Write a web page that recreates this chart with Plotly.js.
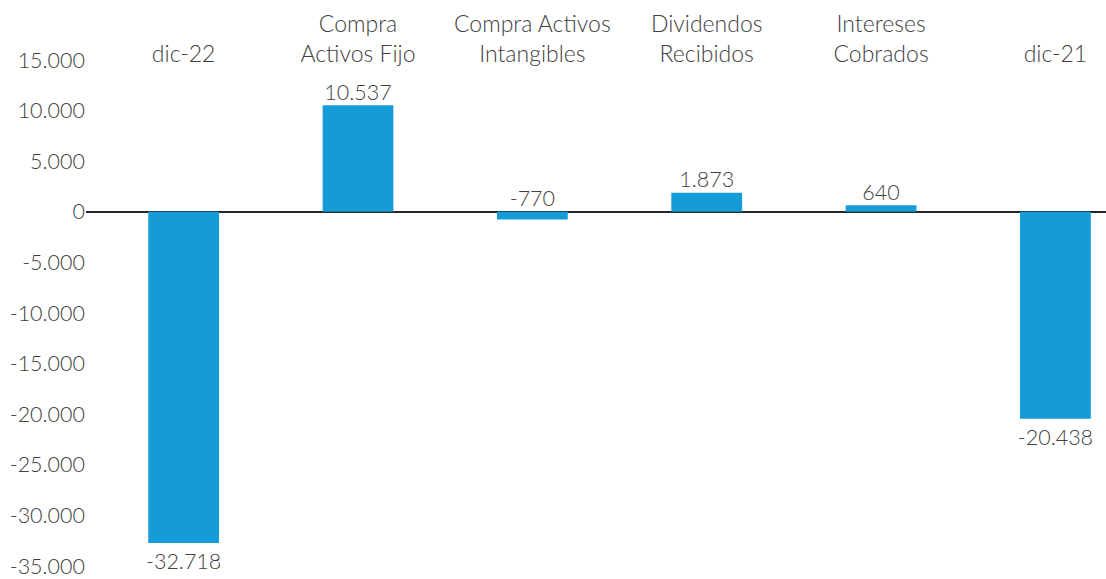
<!DOCTYPE html>
<html>
<head>
<meta charset="utf-8">
<script src="https://cdn.plot.ly/plotly-3.0.1.min.js"></script>
<style>html,body{margin:0;padding:0;background:#fff;}#chart{width:1106px;height:579px;}</style>
</head>
<body>
<div id="chart"></div>
<script>
const categories = ["dic-22", "Compra<br>Activos Fijo", "Compra Activos<br>Intangibles", "Dividendos<br>Recibidos", "Intereses<br>Cobrados", "dic-21"];
const values = [-32718, 10537, -770, 1873, 640, -20438];
const valueLabels = ["-32.718", "10.537", "-770", "1.873", "640", "-20.438"];
const yTicks = [15000, 10000, 5000, 0, -5000, -10000, -15000, -20000, -25000, -30000, -35000];
const yTickLabels = ["15.000", "10.000", "5.000", "0", "-5.000", "-10.000", "-15.000", "-20.000", "-25.000", "-30.000", "-35.000"];

const font = "Lato, 'Open Sans', sans-serif";
const textColor = "#404040";

const isBelow = values.map(v => v < -1000);
const labelPos = isBelow.map(b => b ? "bottom center" : "top center");
const labelY = values.map((v, i) => isBelow[i] ? v : Math.max(v, 0));
const labelPad = isBelow.map(b => b ? 14 : 0);

const data = [
  {
    type: "bar",
    x: categories,
    y: values,
    marker: {color: "#159BD8"},
    hoverinfo: "skip"
  },
  {
    type: "scatter",
    mode: "markers+text",
    x: categories,
    y: labelY,
    text: valueLabels,
    textposition: labelPos,
    marker: {size: labelPad, opacity: 0},
    textfont: {family: font, size: 21.5, color: textColor, weight: 300},
    cliponaxis: false,
    hoverinfo: "skip"
  }
];

const layout = {
  width: 1106,
  height: 579,
  margin: {l: 86, r: 0, t: 60, b: 13},
  paper_bgcolor: "#ffffff",
  plot_bgcolor: "#ffffff",
  showlegend: false,
  bargap: 0.594,
  font: {family: font, color: textColor, size: 21, weight: 300},
  xaxis: {
    type: "category",
    side: "top",
    range: [-0.56, 5.29],
    showline: false,
    showgrid: false,
    zeroline: false,
    ticks: "",
    ticklabelstandoff: -8,
    tickfont: {family: font, size: 23, color: textColor, weight: 300}
  },
  yaxis: {
    range: [-35000, 15000],
    tickvals: yTicks,
    ticktext: yTickLabels,
    showgrid: false,
    showline: false,
    ticks: "",
    zeroline: true,
    zerolinecolor: "#262626",
    zerolinewidth: 2,
    tickfont: {family: font, size: 21.5, color: textColor, weight: 300}
  }
};

Plotly.newPlot("chart", data, layout, {staticPlot: true, displayModeBar: false});
</script>
</body>
</html>
